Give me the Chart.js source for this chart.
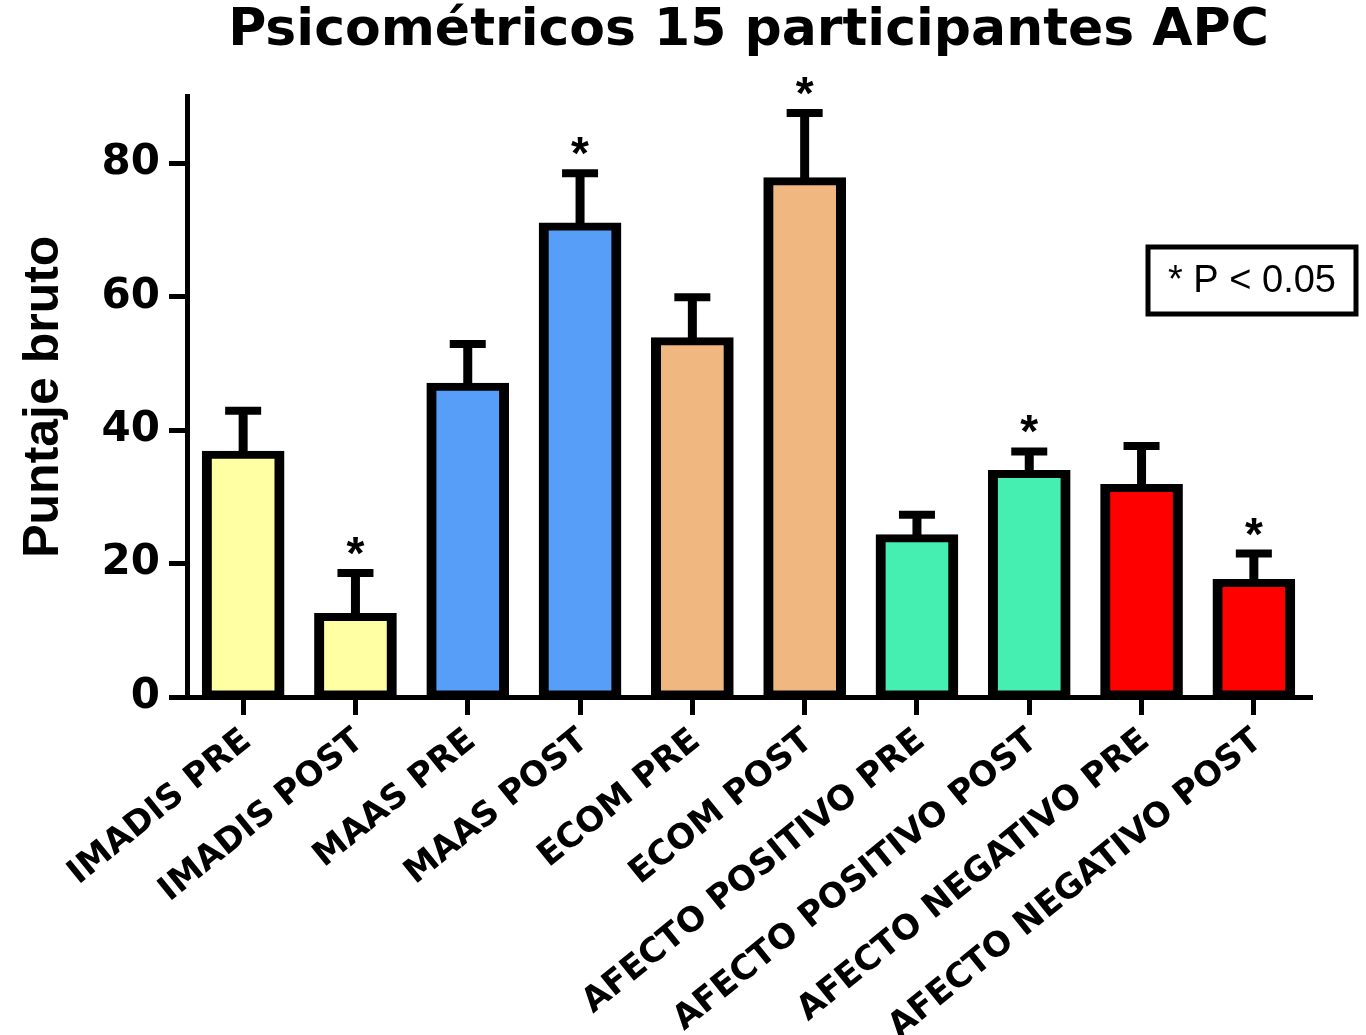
<!DOCTYPE html>
<html>
<head>
<meta charset="utf-8">
<title>Psicométricos 15 participantes APC</title>
<script src="https://cdn.jsdelivr.net/npm/chart.js@4.4.1/dist/chart.umd.min.js"></script>
<style>
  html, body { margin: 0; padding: 0; background: #ffffff; }
  #wrap { width: 1366px; height: 1035px; }
</style>
</head>
<body>
<div id="wrap"><canvas id="chart" width="1366" height="1035"></canvas></div>
<script>
// Scores per instrument, before (PRE) and after (POST)
const categories = [
  'IMADIS PRE', 'IMADIS POST',
  'MAAS PRE', 'MAAS POST',
  'ECOM PRE', 'ECOM POST',
  'AFECTO POSITIVO PRE', 'AFECTO POSITIVO POST',
  'AFECTO NEGATIVO PRE', 'AFECTO NEGATIVO POST'
];
const meanScores = [36.3, 12.0, 46.5, 70.5, 53.3, 77.3, 23.8, 33.4, 31.3, 17.1];
const errorScores = [6.6, 6.6, 6.4, 8.0, 6.6, 10.2, 3.5, 3.4, 6.3, 4.4];
const significant = [false, true, false, true, false, true, false, true, false, true];
const yTickValues = [0, 20, 40, 60, 80];

const barColors = [
  '#FFFFA3', '#FFFFA3',
  '#579EF9', '#579EF9',
  '#F0B780', '#F0B780',
  '#44EFB1', '#44EFB1',
  '#FF0000', '#FF0000'
];

const BOLD = '"DejaVu Sans", sans-serif';

// Upper error bars, significance stars and the p-value note
const errorBarPlugin = {
  id: 'errorBars',
  afterDatasetsDraw(chart) {
    const ctx = chart.ctx;
    const y = chart.scales.y;
    const meta = chart.getDatasetMeta(0);
    ctx.save();
    ctx.strokeStyle = '#000';
    ctx.fillStyle = '#000';
    ctx.lineCap = 'butt';
    meta.data.forEach((bar, i) => {
      const top = y.getPixelForValue(meanScores[i]);
      const cap = y.getPixelForValue(meanScores[i] + errorScores[i]);
      ctx.lineWidth = 9;
      ctx.beginPath();
      ctx.moveTo(bar.x, top);
      ctx.lineTo(bar.x, cap);
      ctx.stroke();
      ctx.lineWidth = 8;
      ctx.beginPath();
      ctx.moveTo(bar.x - 18, cap);
      ctx.lineTo(bar.x + 18, cap);
      ctx.stroke();
      if (significant[i]) {
        ctx.font = 'bold 46px "Liberation Sans", Arial, sans-serif';
        ctx.textAlign = 'center';
        ctx.textBaseline = 'alphabetic';
        const m = ctx.measureText('*');
        const cy = cap - 27;
        ctx.fillText('*', bar.x, cy + (m.actualBoundingBoxAscent - m.actualBoundingBoxDescent) / 2);
      }
    });
    ctx.restore();
  },
  afterDraw(chart) {
    const ctx = chart.ctx;
    const area = chart.chartArea;
    const bx = area.right - 162, by = 247, bw = 208, bh = 67;
    ctx.save();
    ctx.lineWidth = 5;
    ctx.strokeStyle = '#000';
    ctx.fillStyle = '#fff';
    ctx.fillRect(bx, by, bw, bh);
    ctx.strokeRect(bx, by, bw, bh);
    ctx.fillStyle = '#000';
    ctx.font = '38px "Liberation Sans", Arial, sans-serif';
    ctx.textAlign = 'center';
    ctx.textBaseline = 'middle';
    ctx.fillText('* P < 0.05', bx + bw / 2, by + bh / 2 + 1);
    ctx.restore();
  }
};

new Chart(document.getElementById('chart'), {
  type: 'bar',
  data: {
    labels: categories,
    datasets: [{
      data: meanScores,
      backgroundColor: barColors,
      borderColor: '#000',
      borderWidth: { top: 8, left: 10, right: 10, bottom: 8 },
      borderSkipped: false,
      inflateAmount: 4,
      barPercentage: 0.665,
      categoryPercentage: 1.0
    }]
  },
  options: {
    responsive: false,
    animation: false,
    devicePixelRatio: 1,
    layout: { padding: { left: 0, right: 56, top: 0, bottom: 0 } },
    plugins: {
      legend: { display: false },
      tooltip: { enabled: false },
      title: {
        display: true,
        fullSize: false,
        text: 'Psicométricos 15 participantes APC',
        color: '#000',
        font: { family: BOLD, size: 52, weight: 'bold', lineHeight: 1.2 },
        padding: { top: 0, bottom: 34 }
      }
    },
    scales: {
      x: {
        z: 1,
        offset: true,
        border: { display: true, color: '#000', width: 5 },
        grid: { display: true, offset: false, drawOnChartArea: false, drawTicks: true, tickLength: 18, lineWidth: 5, color: '#000' },
        ticks: {
          autoSkip: false,
          minRotation: 39,
          maxRotation: 39,
          padding: 6,
          labelOffset: 4,
          color: '#000',
          font: { family: BOLD, size: 34, weight: 'bold' }
        },
        afterFit(scale) { scale.height = 338; }
      },
      y: {
        z: 1,
        min: 0,
        max: 90,
        border: { display: true, color: '#000', width: 5 },
        grid: { display: true, drawOnChartArea: false, drawTicks: true, tickLength: 18, lineWidth: 5, color: '#000' },
        ticks: {
          padding: 9,
          color: '#000',
          font: { family: BOLD, size: 42, weight: 'bold' }
        },
        afterBuildTicks(axis) { axis.ticks = yTickValues.map(v => ({ value: v })); },
        title: {
          display: true,
          text: 'Puntaje bruto',
          color: '#000',
          font: { family: '"Liberation Sans", Arial, sans-serif', size: 50, weight: 'bold', lineHeight: 1.2 },
          padding: { top: 14, bottom: 0 }
        },
        afterFit(scale) { scale.width = 187; }
      }
    }
  },
  plugins: [errorBarPlugin]
});
</script>
</body>
</html>
